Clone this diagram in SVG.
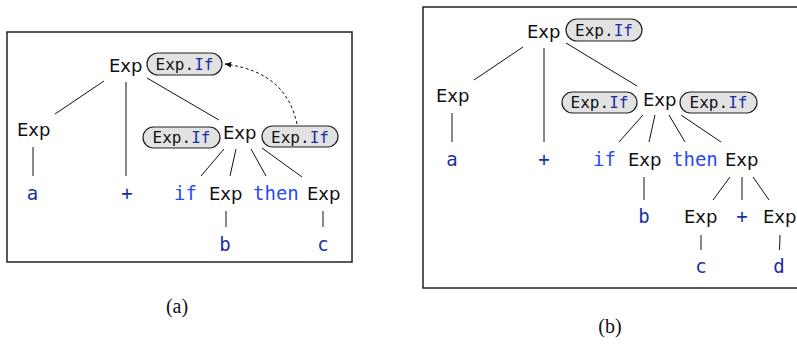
<svg xmlns="http://www.w3.org/2000/svg" width="797" height="346" viewBox="0 0 797 346">
<style>
.frame{fill:none;stroke:#222;stroke-width:1.5}
.edge{stroke:#111;stroke-width:1;fill:none}
.nt{font-family:"DejaVu Sans",sans-serif;font-size:18px;fill:#111}
.t{font-family:"DejaVu Sans Mono",monospace;font-size:19px;fill:#1c2ea6}
.kw{font-family:"DejaVu Sans Mono",monospace;font-size:19px;fill:#2a4cf0}
.pill rect{fill:#e2e2e2;stroke:#222;stroke-width:1.2}
.pill text{font-family:"DejaVu Sans Mono",monospace;font-size:16px;fill:#111;text-anchor:middle}
.pill tspan{fill:#1c2ea6}
.cap{font-family:"Liberation Serif",serif;font-size:20px;fill:#111;text-anchor:middle}
.mid{text-anchor:middle}
</style>
<defs>
<marker id="ah" viewBox="0 0 10 10" refX="9" refY="5" markerWidth="7" markerHeight="7" orient="auto" markerUnits="userSpaceOnUse">
<path d="M0,1 L10,5 L0,9 z" fill="#111"/>
</marker>
</defs>

<!-- Panel (a) -->
<rect class="frame" x="7" y="32" width="345" height="230"/>
<g id="connectors-a">
<line class="edge" x1="104" y1="81" x2="55" y2="114"/>
<line class="edge" x1="126" y1="82" x2="126" y2="176"/>
<line class="edge" x1="147" y1="78" x2="219" y2="120"/>
<line class="edge" x1="33" y1="147" x2="33" y2="176"/>
<line class="edge" x1="224" y1="149" x2="201" y2="176"/>
<line class="edge" x1="236" y1="149" x2="230" y2="176"/>
<line class="edge" x1="251" y1="149" x2="266" y2="176"/>
<line class="edge" x1="262" y1="148" x2="302" y2="177"/>
<line class="edge" x1="226" y1="211" x2="226" y2="227"/>
<line class="edge" x1="323" y1="211" x2="323" y2="227"/>
<path class="edge" d="M297,124 C290,92 270,70 225,64" stroke-dasharray="3,2.5" marker-end="url(#ah)"/>
</g>
<g id="a-root"><text class="nt" x="109" y="72">Exp</text></g>
<g id="a-root-pill" class="pill"><rect x="147" y="53" width="75" height="22" rx="11"/><text x="184.5" y="69.8">Exp.<tspan>If</tspan></text></g>
<g id="a-exp-left"><text class="nt" x="17" y="136">Exp</text></g>
<g id="a-exp-mid"><text class="nt" x="223" y="139">Exp</text></g>
<g id="a-pill-left" class="pill"><rect x="143" y="127" width="77" height="21" rx="10.5"/><text x="181.5" y="143">Exp.<tspan>If</tspan></text></g>
<g id="a-pill-right" class="pill"><rect x="262" y="126" width="76" height="21" rx="10.5"/><text x="300" y="142.5">Exp.<tspan>If</tspan></text></g>
<g id="a-a"><text class="t mid" x="32.5" y="200">a</text></g>
<g id="a-plus"><text class="t mid" x="127" y="200">+</text></g>
<g id="a-if"><text class="kw" x="174" y="200">if</text></g>
<g id="a-exp-b"><text class="nt" x="209" y="200">Exp</text></g>
<g id="a-then"><text class="kw" x="253" y="200">then</text></g>
<g id="a-exp-c"><text class="nt" x="307" y="200">Exp</text></g>
<g id="a-b"><text class="t mid" x="225" y="251">b</text></g>
<g id="a-c"><text class="t mid" x="323" y="251">c</text></g>
<text class="cap" x="177" y="313">(a)</text>

<!-- Panel (b) -->
<rect class="frame" x="423" y="7" width="380" height="281"/>
<g id="connectors-b">
<line class="edge" x1="523" y1="47" x2="474" y2="80"/>
<line class="edge" x1="544" y1="48" x2="544" y2="142"/>
<line class="edge" x1="566" y1="43" x2="637" y2="86"/>
<line class="edge" x1="452" y1="113" x2="452" y2="142"/>
<line class="edge" x1="643" y1="115" x2="619" y2="142"/>
<line class="edge" x1="655" y1="115" x2="649" y2="142"/>
<line class="edge" x1="669" y1="115" x2="685" y2="142"/>
<line class="edge" x1="681" y1="115" x2="721" y2="142"/>
<line class="edge" x1="644" y1="177" x2="644" y2="200"/>
<line class="edge" x1="730" y1="177" x2="713" y2="200"/>
<line class="edge" x1="742" y1="177" x2="742" y2="200"/>
<line class="edge" x1="753" y1="177" x2="769" y2="200"/>
<line class="edge" x1="701" y1="235" x2="701" y2="250"/>
<line class="edge" x1="780" y1="235" x2="779.5" y2="250"/>
</g>
<g id="b-root"><text class="nt" x="527" y="38">Exp</text></g>
<g id="b-root-pill" class="pill"><rect x="566" y="19" width="76" height="22" rx="11"/><text x="604" y="35.8">Exp.<tspan>If</tspan></text></g>
<g id="b-exp-left"><text class="nt" x="436" y="102">Exp</text></g>
<g id="b-exp-mid"><text class="nt" x="643" y="106">Exp</text></g>
<g id="b-pill-left" class="pill"><rect x="562" y="92" width="75" height="21" rx="10.5"/><text x="599.5" y="108.3">Exp.<tspan>If</tspan></text></g>
<g id="b-pill-right" class="pill"><rect x="680" y="92" width="77" height="21" rx="10.5"/><text x="718.5" y="108.3">Exp.<tspan>If</tspan></text></g>
<g id="b-a"><text class="t mid" x="452" y="166">a</text></g>
<g id="b-plus"><text class="t mid" x="544" y="166">+</text></g>
<g id="b-if"><text class="kw" x="593" y="166">if</text></g>
<g id="b-exp-b"><text class="nt" x="628" y="166">Exp</text></g>
<g id="b-then"><text class="kw" x="672" y="166">then</text></g>
<g id="b-exp-sum"><text class="nt" x="725" y="166">Exp</text></g>
<g id="b-b"><text class="t mid" x="644" y="223">b</text></g>
<g id="b-exp-c"><text class="nt" x="684" y="223">Exp</text></g>
<g id="b-plus2"><text class="t mid" x="742" y="223">+</text></g>
<g id="b-exp-d"><text class="nt" x="763" y="223">Exp</text></g>
<g id="b-c"><text class="t mid" x="701" y="273">c</text></g>
<g id="b-d"><text class="t mid" x="779" y="273">d</text></g>
<text class="cap" x="610" y="333">(b)</text>
</svg>
